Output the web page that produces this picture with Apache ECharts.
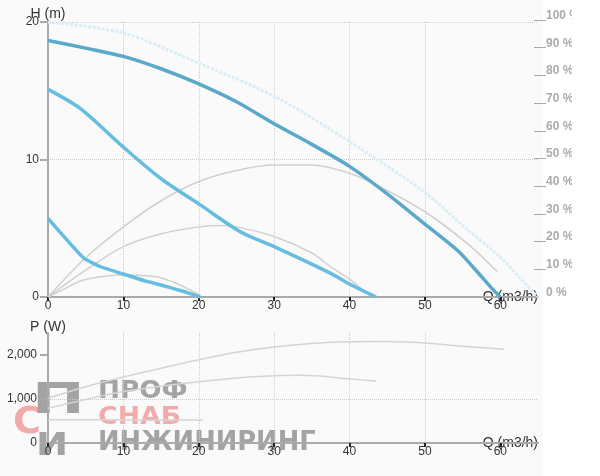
<!DOCTYPE html>
<html>
<head>
<meta charset="utf-8">
<script src="https://cdn.jsdelivr.net/npm/echarts@6/dist/echarts.min.js"></script>
<style>
  html, body { margin: 0; padding: 0; background: #fff; }
  #chart { width: 572px; height: 476px; }
</style>
</head>
<body>
<div id="chart"></div>
<script>
// tick values
const qTicks = [0, 10, 20, 30, 40, 50, 60];
const pTicks = [0, 1000, 2000];
const effTicks = [10, 20, 30, 40, 50, 60, 70, 80, 90, 100];

// head curves H (m) vs Q (m3/h)
const headMax = [[0, 20], [10, 19.2], [20, 17.0], [30, 14.6], [40, 11.3], [50, 7.6], [55, 5.2], [60, 2.9], [63.6, 0.8], [65, 0]];
const headHigh = [[0, 18.65], [5, 18.1], [10, 17.5], [15, 16.6], [20, 15.5], [25, 14.2], [30, 12.6], [35, 11.1], [40, 9.5], [45, 7.5], [50, 5.3], [54.3, 3.4], [57, 1.8], [59.1, 0.5], [60, 0]];
const headMid = [[0, 15.1], [4.3, 13.7], [10, 10.9], [15, 8.6], [20.2, 6.7], [25.5, 4.75], [30, 3.66], [37.5, 1.72], [40, 0.95], [43.5, 0]];
const headLow = [[0, 5.72], [4.7, 2.85], [7, 2.2], [10, 1.67], [13, 1.15], [15.8, 0.75], [18, 0.4], [20.2, 0]];

// efficiency curves (drawn on the head scale)
const effHigh = [[0, 0], [5, 2.85], [10, 5.1], [15, 7.0], [20, 8.4], [25, 9.2], [30, 9.6], [35, 9.6], [40, 9.0], [44.1, 8.0], [50, 6.2], [55.6, 3.9], [59.6, 1.84]];
const effMid = [[0, 0], [4.7, 1.84], [10, 3.66], [15, 4.6], [20, 5.1], [22.8, 5.2], [25, 5.1], [30, 4.4], [35, 3.2], [37.5, 2.2], [40, 1.3], [42.3, 0.27]];
const effLow = [[0, 0], [2.4, 0.65], [4.7, 1.24], [10, 1.6], [14.4, 1.48], [17, 1.0], [20.1, 0.15]];

// power curves P (W)
const powerHigh = [[0, 1020], [5, 1280], [10, 1500], [15, 1700], [20, 1890], [25, 2060], [30, 2180], [35, 2260], [40, 2300], [45, 2305], [50, 2270], [55, 2200], [60.5, 2130]];
const powerMid = [[0, 790], [5, 990], [10, 1170], [15, 1290], [20, 1390], [25, 1480], [30, 1530], [33.5, 1540], [36, 1520], [40, 1455], [43.5, 1410]];
const powerLow = [[0, 530], [5, 528], [10, 525], [15, 522], [20.6, 520]];

const chart = echarts.init(document.getElementById('chart'));

const dotted = { color: '#cccccc', type: 'dotted', width: 1 };
const logoGray = 'rgba(105,105,105,0.6)';
const logoRed = 'rgba(235,105,105,0.55)';

function qAxis(gridIndex) {
    return {
        type: 'value', gridIndex: gridIndex, min: 0, max: 65, interval: 10,
        name: 'Q (m3/h)', nameLocation: 'end', nameGap: 0, nameMoveOverlap: false,
        nameTextStyle: { color: '#333', fontSize: 14, align: 'right', verticalAlign: 'middle', padding: [0, 0, 15, 0] },
        axisLine: { show: true, onZero: false, lineStyle: { color: '#aaaaaa', width: 2 } },
        axisTick: { show: true, customValues: qTicks, length: 4, lineStyle: { color: '#222', width: 2 } },
        axisLabel: { customValues: qTicks, color: '#333', fontSize: 12, margin: 3 },
        splitLine: { show: true, showMinLine: false, showMaxLine: false, lineStyle: dotted }
    };
}

function line(data, color, width, xi, yi, extra) {
    return Object.assign({
        type: 'line', data: data, xAxisIndex: xi, yAxisIndex: yi,
        showSymbol: false, smooth: 0.3, silent: true,
        lineStyle: { color: color, width: width }
    }, extra || {});
}

function logoText(text, x, y, size, sx, fill) {
    return { type: 'text', x: x, y: y, scaleX: sx, style: { text: text, font: 'bold ' + size + 'px "DejaVu Sans"', fill: fill } };
}

const option = {
    backgroundColor: '#ffffff',
    animation: false,
    grid: [
        { left: 48, top: 22, width: 490, height: 275, outerBoundsMode: 'none' },
        { left: 48, top: 333, width: 490, height: 110, outerBoundsMode: 'none' },
        { left: 48, top: 20, width: 486, height: 277, outerBoundsMode: 'none' }
    ],
    xAxis: [
        qAxis(0),
        qAxis(1),
        { type: 'value', gridIndex: 2, min: 0, max: 1, show: false }
    ],
    yAxis: [
        {
            type: 'value', gridIndex: 0, min: 0, max: 20, interval: 10,
            name: 'H (m)', nameGap: 1, nameMoveOverlap: false,
            nameTextStyle: { color: '#333', fontSize: 14 },
            axisLine: { show: true, onZero: false, lineStyle: { color: '#aaaaaa', width: 2 } },
            axisTick: { show: true, length: 8, lineStyle: { color: '#aaaaaa', width: 2 } },
            axisLabel: { color: '#333', fontSize: 12, margin: 9 },
            splitLine: { show: true, showMinLine: false, lineStyle: dotted }
        },
        {
            type: 'value', gridIndex: 1, min: 0, max: 2500, interval: 1000,
            name: 'P (W)', nameGap: -1, nameMoveOverlap: false,
            nameTextStyle: { color: '#333', fontSize: 14 },
            axisLine: { show: true, onZero: false, lineStyle: { color: '#aaaaaa', width: 2 } },
            axisTick: { show: true, customValues: pTicks, length: 8, lineStyle: { color: '#aaaaaa', width: 2 } },
            axisLabel: {
                customValues: pTicks, color: '#333', fontSize: 12, margin: 11,
                formatter: v => v.toLocaleString('en-US')
            },
            splitLine: { show: true, showMinLine: false, showMaxLine: false, lineStyle: dotted }
        },
        {
            type: 'value', gridIndex: 2, position: 'right', min: 0, max: 100, interval: 10,
            axisLine: { show: false, onZero: false },
            axisTick: { show: true, customValues: effTicks, length: 12, lineStyle: { color: '#aaaaaa', width: 1 } },
            axisLabel: {
                color: '#aaaaaa', fontSize: 12, fontWeight: 'bold', margin: 12,
                verticalAlign: 'bottom', lineHeight: 9,
                formatter: v => v + ' %'
            },
            splitLine: { show: false }
        }
    ],
    graphic: [
        { type: 'rect', silent: true, z: -100, shape: { x: 0, y: 0, width: 543, height: 476 }, style: { fill: '#fafafa' } },
        {
            type: 'group', silent: true, z: 100,
            children: [
                logoText('П', 32, 381, 42, 1.5, logoGray),
                logoText('С', 13, 404, 38, 1.0, logoRed),
                logoText('И', 36, 431, 32, 1.2, logoGray),
                logoText('ПРОФ', 98, 379, 25, 1.05, logoGray),
                logoText('СНАБ', 98, 405, 25, 1.07, logoRed),
                logoText('ИНЖИНИРИНГ', 98, 430, 26, 0.99, logoGray)
            ]
        }
    ],
    series: [
        line(effHigh, '#d0d0d0', 1.5, 0, 0),
        line(effMid, '#d0d0d0', 1.5, 0, 0),
        line(effLow, '#d0d0d0', 1.5, 0, 0),
        line(headMax, '#d9edf6', 3, 0, 0, { lineStyle: { color: '#d9edf6', width: 3, type: [3, 1.5] } }),
        line(headHigh, '#5ba9c9', 3.5, 0, 0),
        line(headMid, '#66bde0', 3.5, 0, 0),
        line(headLow, '#66bde0', 3.5, 0, 0, { smooth: 0.15 }),
        line(powerHigh, '#d4d4d4', 1.5, 1, 1),
        line(powerMid, '#d4d4d4', 1.5, 1, 1),
        line(powerLow, '#d4d4d4', 1.5, 1, 1)
    ]
};

chart.setOption(option);
</script>
</body>
</html>
